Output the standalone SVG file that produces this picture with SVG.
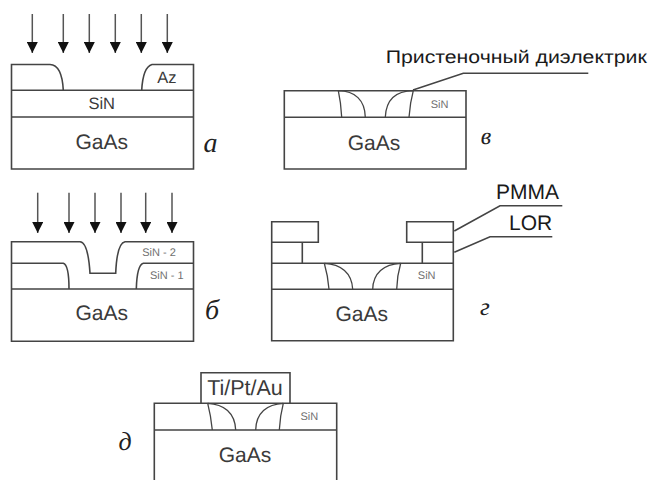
<svg xmlns="http://www.w3.org/2000/svg" width="651" height="480" viewBox="0 0 651 480">
<style>
.l{fill:none;stroke:#444;stroke-width:1.6}
.t{stroke-width:1.3}
.a{stroke:#555;stroke-width:1.5;fill:none;marker-end:url(#h)}
text{font-family:"Liberation Sans",Arial,sans-serif;fill:#3a3a3a;text-anchor:middle;text-rendering:geometricPrecision}
.g{font-size:21px}
.s{font-size:11px;fill:#707070}
.m{font-size:16.5px}
.k{font-family:"Liberation Serif","Times New Roman",serif;font-style:italic;fill:#222}
.b{fill:#1a1a1a;text-anchor:start}
</style>
<defs>
<marker id="h" markerUnits="userSpaceOnUse" markerWidth="12" markerHeight="11" refX="11" refY="5.5" orient="auto" viewBox="0 0 11 11"><path d="M0 0L11 5.5L0 11Z" fill="#111"/></marker>
</defs>
<g id="panel-a">
<path class="l" d="M11.5 90.3V64.5H50Q62 65 63.3 90.3M141.7 90.3Q143 67 152 64.5H193.5V90.3M11.5 90.3H193.5M11.5 90.3V169H193.5V90.3M11.5 117H193.5"/>
<text class="m" x="167" y="83">Az</text>
<text class="m" x="101.7" y="109">SiN</text>
<text class="g" x="101.7" y="149">GaAs</text>
<text class="k" x="210.5" y="152" font-size="28">а</text>
</g>
<g id="panel-v">
<path class="l" d="M284.3 117.3V90.7H466V117.3M284.3 117.3H466M284.3 117.3V169H466V117.3"/>
<path class="l t" d="M338.3 90.7Q341 103 341.7 117.3M338.3 90.7C355 91 365 100 365.3 117.3M385.3 117.3C386 100 396 91 413.3 90.7M413.3 90.7Q410 103 409 117.3"/>
<text class="s" x="439.5" y="107.5">SiN</text>
<text class="g" x="374" y="150">GaAs</text>
<text class="k" x="486" y="144" font-size="24">в</text>
<text class="b" x="385.7" y="63" font-size="18" textLength="261" lengthAdjust="spacingAndGlyphs">Пристеночный диэлектрик</text>
</g>
<g id="panel-b">
<path class="l" d="M11.5 289V241.7H80Q88 242 90 273.3H115.7Q117 243 125 241.7H193.5V289M11.5 263.3H63.3Q69 265 69 289M136.3 289Q137 265 143.3 263.3H193.5M11.5 289H193.5M11.5 289V341.3H193.5V289"/>
<text class="s" x="159" y="256">SiN - 2</text>
<text class="s" x="166.7" y="278.5">SiN - 1</text>
<text class="g" x="101.7" y="320">GaAs</text>
<text class="k" x="212" y="319" font-size="28">б</text>
</g>
<g id="panel-g">
<path class="l" d="M271.7 221.7H318.3V242.3H271.7ZM271.7 242.3V263.3M302.3 242.3V263.3M406.7 221.7H453.3V242.3H406.7ZM422.3 242.3V263.3M453.3 242.3V263.3M271.7 263.3H453.3V340.7H271.7ZM271.7 289.3H453.3"/>
<path class="l t" d="M324.3 263.3Q328 276 329 289.3M324.3 263.3C341 264 352 273 352.7 289.3M372.7 289.3C373 273 384 264 400.7 263.3M400.7 263.3Q397 276 396.7 289.3"/>
<text class="s" x="426.7" y="279">SiN</text>
<text class="g" x="361.7" y="321">GaAs</text>
<text class="k" x="485" y="315" font-size="25">г</text>
<text class="b" x="496" y="198.5" font-size="21">PMMA</text>
<text class="b" x="509" y="230" font-size="21">LOR</text>
</g>
<g id="panel-d">
<path class="l" d="M201 403.3V372.7H290V403.3M154.3 403.3H336.7V430H154.3ZM154.3 430V480M336.7 430V480"/>
<path class="l t" d="M207.7 403.3Q211 416 212.3 430M207.7 403.3C224 404 235 413 235.7 430M255.7 430C256 413 267 404 283.3 403.3M283.3 403.3Q280 416 279.3 430"/>
<text x="245" y="394.5" font-size="21.5">Ti/Pt/Au</text>
<text class="s" x="309.3" y="419.5">SiN</text>
<text class="g" x="245" y="461.5">GaAs</text>
<text class="k" x="125" y="450" font-size="26">д</text>
</g>
<g id="connectors">
<path class="a" d="M32.3 14V53"/><path class="a" d="M63.3 14V53"/><path class="a" d="M89.3 14V53"/><path class="a" d="M115.3 14V53"/><path class="a" d="M141.3 14V53"/><path class="a" d="M167.3 14V53"/>
<path class="a" d="M37.7 192.7V233"/><path class="a" d="M69 192.7V233"/><path class="a" d="M95 192.7V233"/><path class="a" d="M121 192.7V233"/><path class="a" d="M145.7 192.7V233"/><path class="a" d="M172 192.7V233"/>
<path class="l" d="M413 90L463.3 73.3H588.3"/>
<path class="l" d="M454.3 231L500 205.7H562.3"/>
<path class="l" d="M454.3 252.3L490 236.7H552.3"/>
</g>
</svg>
